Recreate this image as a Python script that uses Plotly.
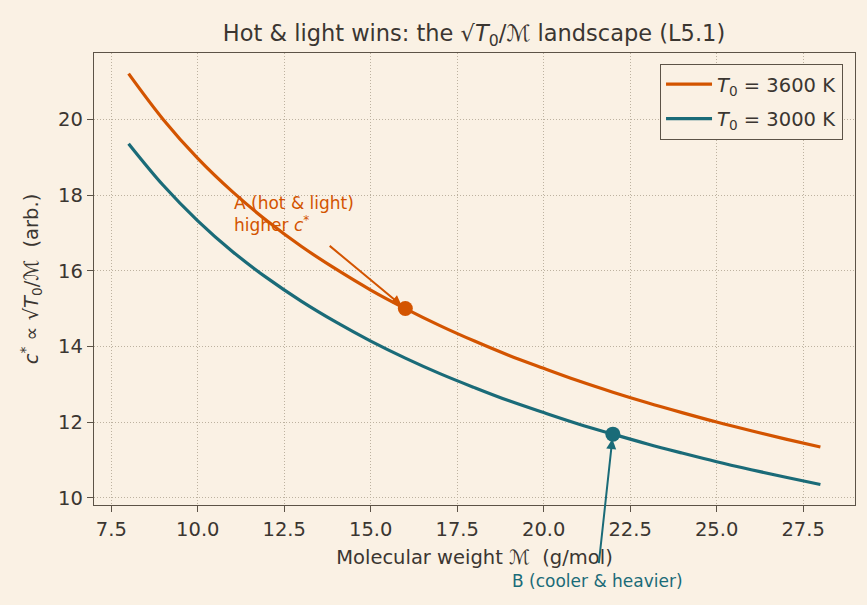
import plotly.graph_objects as go

# Molecular weight (g/mol)
M = [8, 9, 10, 11, 12, 13, 14, 15, 16, 17, 18, 19, 20, 21, 22, 23, 24, 25, 26, 27, 28]
# c* values (arb.)
c_3600 = [21.21, 20.00, 18.97, 18.09, 17.32, 16.64, 16.04, 15.49, 15.00, 14.55, 14.14,
          13.76, 13.42, 13.09, 12.79, 12.51, 12.25, 12.00, 11.77, 11.55, 11.34]
c_3000 = [19.36, 18.26, 17.32, 16.51, 15.81, 15.19, 14.64, 14.14, 13.69, 13.28, 12.91,
          12.56, 12.25, 11.95, 11.68, 11.42, 11.18, 10.95, 10.74, 10.54, 10.35]

pointA = (16, 15.00)
pointB = (22, 11.68)

xticks = [7.5, 10.0, 12.5, 15.0, 17.5, 20.0, 22.5, 25.0, 27.5]
yticks = [10, 12, 14, 16, 18, 20]

ORANGE = "#d35400"
TEAL = "#1a6b78"
BG = "#faf1e4"
TXT = "#3b3631"
SPINE = "#5c5347"
GRID = "#bdb2a0"
FONT = "DejaVu Sans"
FS = 19.5

fig = go.Figure()
fig.add_trace(go.Scatter(x=M, y=c_3600, mode="lines", line=dict(color=ORANGE, width=3.2, shape="spline"),
                         name="<i>T</i><sub>0</sub> = 3600 K", legendgroup="a"))
fig.add_trace(go.Scatter(x=M, y=c_3000, mode="lines", line=dict(color=TEAL, width=3.2, shape="spline"),
                         name="<i>T</i><sub>0</sub> = 3000 K", legendgroup="b"))
fig.add_trace(go.Scatter(x=[pointA[0]], y=[pointA[1]], mode="markers",
                         marker=dict(color=ORANGE, size=15), showlegend=False))
fig.add_trace(go.Scatter(x=[pointB[0]], y=[pointB[1]], mode="markers",
                         marker=dict(color=TEAL, size=15), showlegend=False))

# Arrow A
fig.add_annotation(x=pointA[0], y=pointA[1], ax=13.77, ay=16.69, axref="x", ayref="y",
                   xref="x", yref="y", text="", showarrow=True, arrowhead=2, arrowsize=1,
                   arrowwidth=2, arrowcolor=ORANGE, standoff=5)
fig.add_annotation(x=11.0, y=17.5, xref="x", yref="y", xanchor="left", yanchor="middle",
                   text="A (hot & light)<br>higher <i>c</i><sup>*</sup>", showarrow=False,
                   align="left", font=dict(color=ORANGE, size=17, family=FONT))
# Arrow B
fig.add_annotation(x=pointB[0], y=pointB[1], ax=21.59, ay=8.23, axref="x", ayref="y",
                   xref="x", yref="y", text="", showarrow=True, arrowhead=2, arrowsize=1,
                   arrowwidth=2, arrowcolor=TEAL, standoff=5)
fig.add_annotation(x=21.56, y=-0.168, xref="x", yref="paper", xanchor="center", yanchor="middle",
                   text="B (cooler & heavier)", showarrow=False,
                   font=dict(color=TEAL, size=17, family=FONT))

fig.update_layout(
    width=867, height=605,
    paper_bgcolor=BG, plot_bgcolor=BG,
    margin=dict(l=94, r=12, t=53, b=100),
    font=dict(family=FONT, color=TXT, size=FS),
    title=dict(text="Hot & light wins: the √<i>T</i><sub>0</sub>/ℳ landscape (L5.1)",
               x=0.5467, xanchor="center", y=0.945, yanchor="middle", font=dict(size=22.5, color=TXT)),
    legend=dict(x=0.984, y=0.976, xanchor="right", yanchor="top", bgcolor=BG,
                bordercolor=SPINE, borderwidth=1.2, font=dict(size=FS, color=TXT),
                tracegroupgap=6, itemwidth=46),
    showlegend=True,
)
fig.update_xaxes(range=[7, 29], tickvals=xticks, ticktext=[f"{v:.1f}" for v in xticks],
                 showline=True, linecolor=SPINE, linewidth=1.4, mirror=True,
                 ticks="outside", ticklen=6, tickcolor=SPINE, tickfont=dict(size=FS),
                 showgrid=True, gridcolor=GRID, griddash="1px,2px", gridwidth=1.2, zeroline=False,
                 title=dict(text="Molecular weight ℳ  (g/mol)", standoff=10, font=dict(size=FS)))
fig.update_yaxes(range=[9.807, 21.756], tickvals=yticks, ticktext=[str(v) for v in yticks],
                 showline=True, linecolor=SPINE, linewidth=1.4, mirror=True,
                 ticks="outside", ticklen=6, tickcolor=SPINE, tickfont=dict(size=FS),
                 showgrid=True, gridcolor=GRID, griddash="1px,2px", gridwidth=1.2, zeroline=False,
                 title=dict(text="<i>c</i><sup>*</sup> ∝ √<i>T</i><sub>0</sub>/ℳ  (arb.)", standoff=14,
                            font=dict(size=FS)))

fig.write_html("out.html")
